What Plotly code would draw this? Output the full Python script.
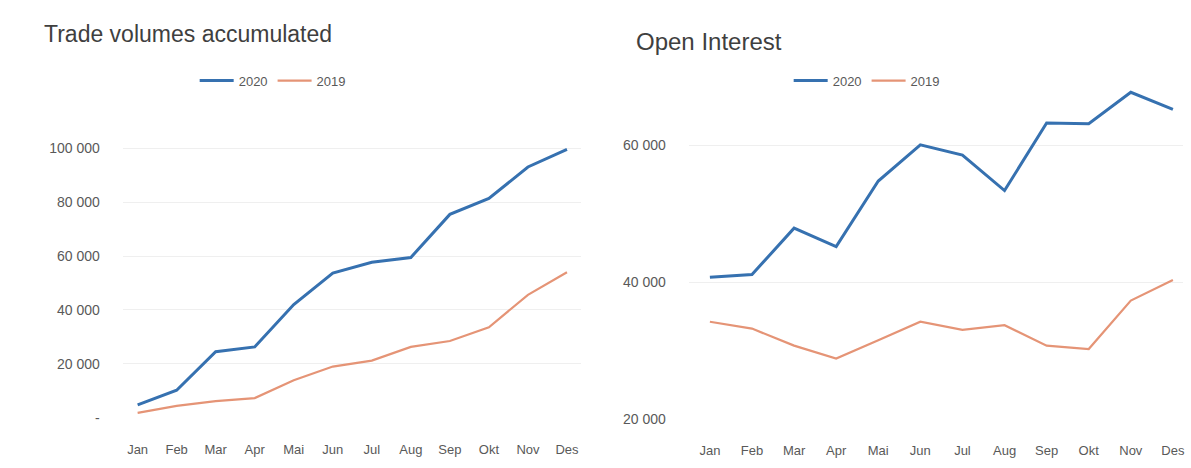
import plotly.graph_objects as go

months = ["Jan", "Feb", "Mar", "Apr", "Mai", "Jun", "Jul", "Aug", "Sep", "Okt", "Nov", "Des"]

# Trade volumes accumulated
trade_2020 = [4800, 10200, 24500, 26300, 42000, 53700, 57700, 59500, 75500, 81400, 93100, 99600]
trade_2019 = [1800, 4400, 6200, 7300, 13900, 19000, 21200, 26300, 28500, 33600, 45600, 54000]

# Open interest
oi_2020 = [40700, 41100, 47900, 45200, 54800, 60100, 58600, 53400, 63300, 63200, 67800, 65300]
oi_2019 = [34200, 33200, 30700, 28800, 31500, 34200, 33000, 33700, 30700, 30200, 37300, 40300]

trade_ticks = [0, 20000, 40000, 60000, 80000, 100000]
trade_ticktext = ["-", "20 000", "40 000", "60 000", "80 000", "100 000"]
oi_ticks = [20000, 40000, 60000]
oi_ticktext = ["20 000", "40 000", "60 000"]

BLUE = "#3671b0"
ORANGE = "#e59476"
TEXT = "#595959"
FONT = "Liberation Sans, Arial, sans-serif"

W, H = 1191, 468


def px_x(a, b):
    return [a / W, b / W]


def px_y(top, bottom):
    return [1 - bottom / H, 1 - top / H]


x_idx = list(range(len(months)))

fig = go.Figure()
fig.add_trace(go.Scatter(x=x_idx, y=trade_2020, name="2020", mode="lines",
                         line=dict(color=BLUE, width=3), xaxis="x", yaxis="y", legend="legend"))
fig.add_trace(go.Scatter(x=x_idx, y=trade_2019, name="2019", mode="lines",
                         line=dict(color=ORANGE, width=2.2), xaxis="x", yaxis="y", legend="legend"))
fig.add_trace(go.Scatter(x=x_idx, y=oi_2020, name="2020", mode="lines",
                         line=dict(color=BLUE, width=3), xaxis="x2", yaxis="y2", legend="legend2"))
fig.add_trace(go.Scatter(x=x_idx, y=oi_2019, name="2019", mode="lines",
                         line=dict(color=ORANGE, width=2.2), xaxis="x2", yaxis="y2", legend="legend2"))

x_font = dict(family=FONT, size=13, color=TEXT)
y_font = dict(family=FONT, size=14, color=TEXT)

common_x = dict(tickmode="array", tickvals=x_idx, ticktext=months, showgrid=False,
                zeroline=False, showline=False, ticks="", tickfont=x_font,
                ticklabelstandoff=22, fixedrange=True)
common_y = dict(tickmode="array", showgrid=True, gridcolor="#efefef", gridwidth=1,
                zeroline=False, showline=False, ticks="", tickfont=y_font,
                ticklabelstandoff=22, fixedrange=True)

legend_style = dict(orientation="h", xanchor="left", yanchor="middle",
                    font=dict(family=FONT, size=13, color=TEXT), bgcolor="rgba(0,0,0,0)",
                    itemwidth=34, tracegroupgap=0)

fig.update_layout(
    width=W, height=H,
    margin=dict(l=0, r=0, t=0, b=0),
    paper_bgcolor="white", plot_bgcolor="white",
    xaxis=dict(domain=px_x(123, 582), range=[-0.38, 11.36], anchor="y", **common_x),
    yaxis=dict(domain=px_y(140, 425), range=[0, 104000], anchor="x",
               tickvals=trade_ticks, ticktext=trade_ticktext, **common_y),
    xaxis2=dict(domain=px_x(690, 1185), range=[-0.5, 11.24], anchor="y2", **common_x),
    yaxis2=dict(domain=px_y(89, 426), range=[20000, 68500], anchor="x2",
                tickvals=oi_ticks, ticktext=oi_ticktext, **common_y),
    legend=dict(x=195 / W, y=1 - 82 / H, **legend_style),
    legend2=dict(x=790 / W, y=1 - 82 / H, **legend_style),
    showlegend=True,
    annotations=[
        dict(text="Trade volumes accumulated", x=42 / W, y=1 - 35 / H, xref="paper", yref="paper",
             xanchor="left", yanchor="middle", showarrow=False,
             font=dict(family=FONT, size=23, color="#3f3f3f")),
        dict(text="Open Interest", x=635 / W, y=1 - 42 / H, xref="paper", yref="paper",
             xanchor="left", yanchor="middle", showarrow=False,
             font=dict(family=FONT, size=24, color="#3f3f3f")),
    ],
)

fig.write_html("out.html")
